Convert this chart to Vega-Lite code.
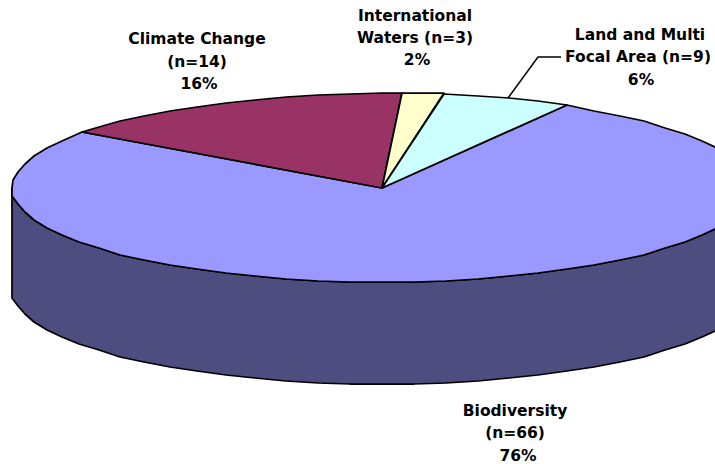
{"$schema":"https://vega.github.io/schema/vega-lite/v6.json","width":715,"height":464,"autosize":{"type":"none"},"padding":0,"background":"white","config":{"view":{"stroke":null}},
"datasets":{
"slices":[
{"s":"Side","i":1,"x":752,"y":188},{"s":"Side","i":2,"x":751,"y":196},{"s":"Side","i":3,"x":746,"y":204},{"s":"Side","i":4,"x":739,"y":212},{"s":"Side","i":5,"x":730,"y":220},{"s":"Side","i":6,"x":717,"y":228},{"s":"Side","i":7,"x":702,"y":235},{"s":"Side","i":8,"x":685,"y":242},{"s":"Side","i":9,"x":665,"y":248},{"s":"Side","i":10,"x":644,"y":255},{"s":"Side","i":11,"x":620,"y":260},{"s":"Side","i":12,"x":594,"y":265},{"s":"Side","i":13,"x":567,"y":269},{"s":"Side","i":14,"x":538,"y":273},{"s":"Side","i":15,"x":509,"y":276},{"s":"Side","i":16,"x":478,"y":279},{"s":"Side","i":17,"x":446,"y":281},{"s":"Side","i":18,"x":414,"y":282},{"s":"Side","i":19,"x":382,"y":282},{"s":"Side","i":20,"x":350,"y":282},{"s":"Side","i":21,"x":318,"y":281},{"s":"Side","i":22,"x":286,"y":279},{"s":"Side","i":23,"x":255,"y":276},{"s":"Side","i":24,"x":226,"y":273},{"s":"Side","i":25,"x":197,"y":269},{"s":"Side","i":26,"x":170,"y":265},{"s":"Side","i":27,"x":144,"y":260},{"s":"Side","i":28,"x":120,"y":255},{"s":"Side","i":29,"x":99,"y":248},{"s":"Side","i":30,"x":79,"y":242},{"s":"Side","i":31,"x":62,"y":235},{"s":"Side","i":32,"x":47,"y":228},{"s":"Side","i":33,"x":34,"y":220},{"s":"Side","i":34,"x":25,"y":212},{"s":"Side","i":35,"x":18,"y":204},{"s":"Side","i":36,"x":12,"y":196},{"s":"Side","i":37,"x":12,"y":188},
{"s":"Side","i":38,"x":12,"y":298},{"s":"Side","i":39,"x":18,"y":306},{"s":"Side","i":40,"x":25,"y":314},{"s":"Side","i":41,"x":34,"y":322},{"s":"Side","i":42,"x":47,"y":330},{"s":"Side","i":43,"x":62,"y":337},{"s":"Side","i":44,"x":79,"y":344},{"s":"Side","i":45,"x":99,"y":350},{"s":"Side","i":46,"x":120,"y":357},{"s":"Side","i":47,"x":144,"y":362},{"s":"Side","i":48,"x":170,"y":367},{"s":"Side","i":49,"x":197,"y":371},{"s":"Side","i":50,"x":226,"y":375},{"s":"Side","i":51,"x":255,"y":378},{"s":"Side","i":52,"x":286,"y":381},{"s":"Side","i":53,"x":318,"y":383},{"s":"Side","i":54,"x":350,"y":384},{"s":"Side","i":55,"x":382,"y":384},{"s":"Side","i":56,"x":414,"y":384},{"s":"Side","i":57,"x":446,"y":383},{"s":"Side","i":58,"x":478,"y":381},{"s":"Side","i":59,"x":509,"y":378},{"s":"Side","i":60,"x":538,"y":375},{"s":"Side","i":61,"x":567,"y":371},{"s":"Side","i":62,"x":594,"y":367},{"s":"Side","i":63,"x":620,"y":362},{"s":"Side","i":64,"x":644,"y":357},{"s":"Side","i":65,"x":665,"y":350},{"s":"Side","i":66,"x":685,"y":344},{"s":"Side","i":67,"x":702,"y":337},{"s":"Side","i":68,"x":717,"y":330},{"s":"Side","i":69,"x":730,"y":322},{"s":"Side","i":70,"x":739,"y":314},{"s":"Side","i":71,"x":746,"y":306},{"s":"Side","i":72,"x":751,"y":298},{"s":"Side","i":73,"x":752,"y":290},{"s":"Side","i":74,"x":752,"y":188},
{"s":"Biodiversity","i":1,"x":382,"y":188},{"s":"Biodiversity","i":2,"x":567,"y":105},{"s":"Biodiversity","i":3,"x":594,"y":111},{"s":"Biodiversity","i":4,"x":620,"y":116},{"s":"Biodiversity","i":5,"x":644,"y":121},{"s":"Biodiversity","i":6,"x":665,"y":128},{"s":"Biodiversity","i":7,"x":685,"y":134},{"s":"Biodiversity","i":8,"x":702,"y":141},{"s":"Biodiversity","i":9,"x":717,"y":148},{"s":"Biodiversity","i":10,"x":730,"y":156},{"s":"Biodiversity","i":11,"x":739,"y":164},{"s":"Biodiversity","i":12,"x":746,"y":172},{"s":"Biodiversity","i":13,"x":751,"y":180},{"s":"Biodiversity","i":14,"x":752,"y":188},{"s":"Biodiversity","i":15,"x":751,"y":196},{"s":"Biodiversity","i":16,"x":746,"y":204},{"s":"Biodiversity","i":17,"x":739,"y":212},{"s":"Biodiversity","i":18,"x":730,"y":220},{"s":"Biodiversity","i":19,"x":717,"y":228},{"s":"Biodiversity","i":20,"x":702,"y":235},{"s":"Biodiversity","i":21,"x":685,"y":242},{"s":"Biodiversity","i":22,"x":665,"y":248},{"s":"Biodiversity","i":23,"x":644,"y":255},{"s":"Biodiversity","i":24,"x":620,"y":260},{"s":"Biodiversity","i":25,"x":594,"y":265},{"s":"Biodiversity","i":26,"x":567,"y":269},{"s":"Biodiversity","i":27,"x":538,"y":273},{"s":"Biodiversity","i":28,"x":509,"y":276},{"s":"Biodiversity","i":29,"x":478,"y":279},{"s":"Biodiversity","i":30,"x":446,"y":281},{"s":"Biodiversity","i":31,"x":414,"y":282},{"s":"Biodiversity","i":32,"x":382,"y":282},{"s":"Biodiversity","i":33,"x":350,"y":282},{"s":"Biodiversity","i":34,"x":318,"y":281},{"s":"Biodiversity","i":35,"x":286,"y":279},{"s":"Biodiversity","i":36,"x":255,"y":276},{"s":"Biodiversity","i":37,"x":226,"y":273},{"s":"Biodiversity","i":38,"x":197,"y":269},{"s":"Biodiversity","i":39,"x":170,"y":265},{"s":"Biodiversity","i":40,"x":144,"y":260},{"s":"Biodiversity","i":41,"x":120,"y":255},{"s":"Biodiversity","i":42,"x":99,"y":248},{"s":"Biodiversity","i":43,"x":79,"y":242},{"s":"Biodiversity","i":44,"x":62,"y":235},{"s":"Biodiversity","i":45,"x":47,"y":228},{"s":"Biodiversity","i":46,"x":34,"y":220},{"s":"Biodiversity","i":47,"x":25,"y":212},{"s":"Biodiversity","i":48,"x":18,"y":204},{"s":"Biodiversity","i":49,"x":12,"y":196},{"s":"Biodiversity","i":50,"x":12,"y":188},{"s":"Biodiversity","i":51,"x":13,"y":180},{"s":"Biodiversity","i":52,"x":18,"y":172},{"s":"Biodiversity","i":53,"x":25,"y":164},{"s":"Biodiversity","i":54,"x":34,"y":156},{"s":"Biodiversity","i":55,"x":47,"y":148},{"s":"Biodiversity","i":56,"x":62,"y":141},{"s":"Biodiversity","i":57,"x":82,"y":132},{"s":"Biodiversity","i":58,"x":382,"y":188},
{"s":"Climate Change","i":1,"x":382,"y":188},{"s":"Climate Change","i":2,"x":82,"y":132},{"s":"Climate Change","i":3,"x":99,"y":127},{"s":"Climate Change","i":4,"x":120,"y":121},{"s":"Climate Change","i":5,"x":144,"y":116},{"s":"Climate Change","i":6,"x":170,"y":111},{"s":"Climate Change","i":7,"x":197,"y":107},{"s":"Climate Change","i":8,"x":226,"y":103},{"s":"Climate Change","i":9,"x":255,"y":100},{"s":"Climate Change","i":10,"x":286,"y":97},{"s":"Climate Change","i":11,"x":318,"y":95},{"s":"Climate Change","i":12,"x":350,"y":94},{"s":"Climate Change","i":13,"x":382,"y":93},{"s":"Climate Change","i":14,"x":402,"y":93},{"s":"Climate Change","i":15,"x":382,"y":188},
{"s":"International Waters","i":1,"x":382,"y":188},{"s":"International Waters","i":2,"x":402,"y":93},{"s":"International Waters","i":3,"x":444,"y":93},{"s":"International Waters","i":4,"x":382,"y":188},
{"s":"Land and Multi Focal Area","i":1,"x":382,"y":188},{"s":"Land and Multi Focal Area","i":2,"x":444,"y":94},{"s":"Land and Multi Focal Area","i":3,"x":478,"y":96},{"s":"Land and Multi Focal Area","i":4,"x":509,"y":98},{"s":"Land and Multi Focal Area","i":5,"x":538,"y":101},{"s":"Land and Multi Focal Area","i":6,"x":567,"y":105},{"s":"Land and Multi Focal Area","i":7,"x":382,"y":188}
],
"leader":[{"i":1,"x":508,"y":98},{"i":2,"x":538,"y":57},{"i":3,"x":561,"y":57}],
"labels":[
{"t":"Climate Change","x":197,"y":39},{"t":"(n=14)","x":197,"y":62},{"t":"16%","x":199,"y":84},
{"t":"International","x":415,"y":16},{"t":"Waters (n=3)","x":415,"y":38},{"t":"2%","x":417,"y":60},
{"t":"Land and Multi","x":640,"y":35},{"t":"Focal Area (n=9)","x":638,"y":57},{"t":"6%","x":641,"y":80},
{"t":"Biodiversity","x":515,"y":411},{"t":"(n=66)","x":515,"y":433},{"t":"76%","x":518,"y":456}
]},
"layer":[
{"data":{"name":"slices"},"mark":{"type":"line","filled":true,"stroke":"black","strokeWidth":1.75,"strokeJoin":"round","clip":true},
"encoding":{"x":{"field":"x","type":"quantitative","scale":{"domain":[0,715],"nice":false,"zero":false},"axis":null},
"y":{"field":"y","type":"quantitative","scale":{"domain":[464,0],"nice":false,"zero":false},"axis":null},
"order":{"field":"i","type":"quantitative"},"detail":{"field":"s"},
"fill":{"field":"s","type":"nominal","legend":null,"sort":null,"scale":{"domain":["Side","Biodiversity","Climate Change","International Waters","Land and Multi Focal Area"],"range":["#4D4D80","#9999FF","#993366","#FFFFCC","#CCFFFF"]}}}},
{"data":{"name":"leader"},"mark":{"type":"line","color":"black","strokeWidth":1.5},"encoding":{"x":{"field":"x","type":"quantitative"},"y":{"field":"y","type":"quantitative"},"order":{"field":"i","type":"quantitative"}}},
{"data":{"name":"labels"},"mark":{"type":"text","font":"DejaVu Sans","fontWeight":"bold","fontSize":15.5,"align":"center","baseline":"middle","color":"black"},"encoding":{"x":{"field":"x","type":"quantitative"},"y":{"field":"y","type":"quantitative"},"text":{"field":"t"}}}
]}
